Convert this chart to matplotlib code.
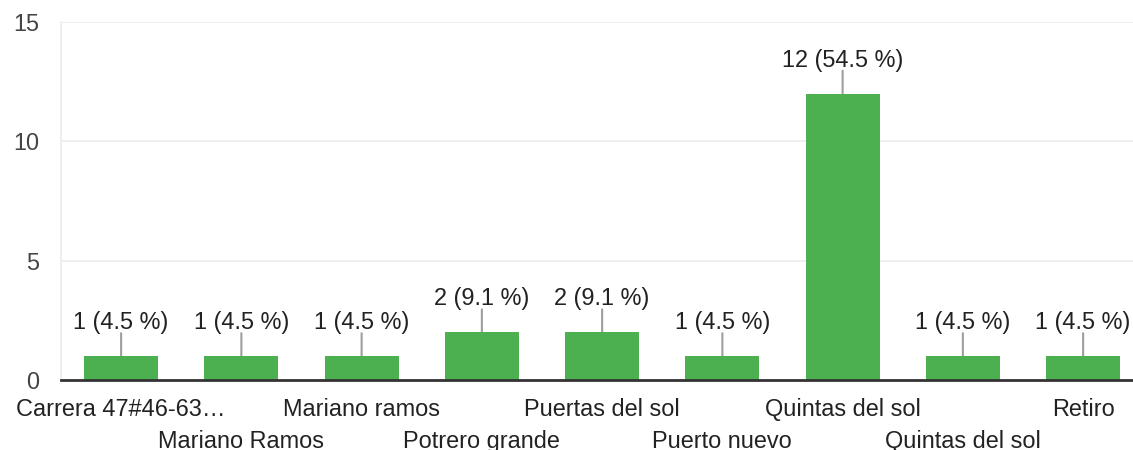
import matplotlib.pyplot as plt

# ===============================
# Data
# ===============================
categories = ['Carrera 47#46-63…', 'Mariano Ramos', 'Mariano ramos', 'Potrero grande',
              'Puertas del sol', 'Puerto nuevo', 'Quintas del sol', 'Quintas del sol', 'Retiro']
counts = [1, 1, 1, 2, 2, 1, 12, 1, 1]
percents = [4.5, 4.5, 4.5, 9.1, 9.1, 4.5, 54.5, 4.5, 4.5]
yticks = [0, 5, 10, 15]

plt.rcParams['font.family'] = ['Liberation Sans', 'DejaVu Sans']
FS = 16.9

fig = plt.figure(figsize=(11.33, 4.5), dpi=100)
ax = fig.add_axes([61 / 1133, 70 / 450, 1072 / 1133, 358 / 450])

x = list(range(len(categories)))
ax.bar(x, counts, width=0.615, color='#4caf50', zorder=3)

ax.set_xlim(-0.5, -0.5 + 1072 / 120.25)
ax.set_ylim(0, 15)
ax.set_yticks(yticks)
ax.set_yticklabels([str(t) for t in yticks])

# grid and spines
ax.grid(axis='y', color='#ebebeb', lw=1.2, zorder=0)
for s in ['top', 'right']:
    ax.spines[s].set_visible(False)
ax.spines['left'].set_color('#ebebeb')
ax.spines['left'].set_linewidth(1.2)
ax.spines['bottom'].set_color('#333333')
ax.spines['bottom'].set_linewidth(2)
ax.spines['bottom'].set_zorder(4)

ax.tick_params(axis='both', length=0, labelsize=FS, colors='#444444')
ax.tick_params(axis='y', pad=16)
ax.set_xticks(x)
ax.set_xticklabels(categories, color='#222222')
for i, tick in enumerate(ax.xaxis.get_major_ticks()):
    tick.set_pad(13 if i % 2 == 0 else 36)

# value labels with leader lines
for xi, c, p in zip(x, counts, percents):
    ax.annotate('', xy=(xi, c), xytext=(0, 16.5), textcoords='offset points',
                arrowprops=dict(arrowstyle='-', color='#9e9e9e', lw=1.5,
                                shrinkA=0, shrinkB=0), zorder=2)
    ax.annotate(f'{c} ({p} %)', xy=(xi, c), xytext=(0, 24), textcoords='offset points',
                ha='center', va='center', fontsize=FS, color='#222222')

fig.savefig('out.png', dpi=100)
